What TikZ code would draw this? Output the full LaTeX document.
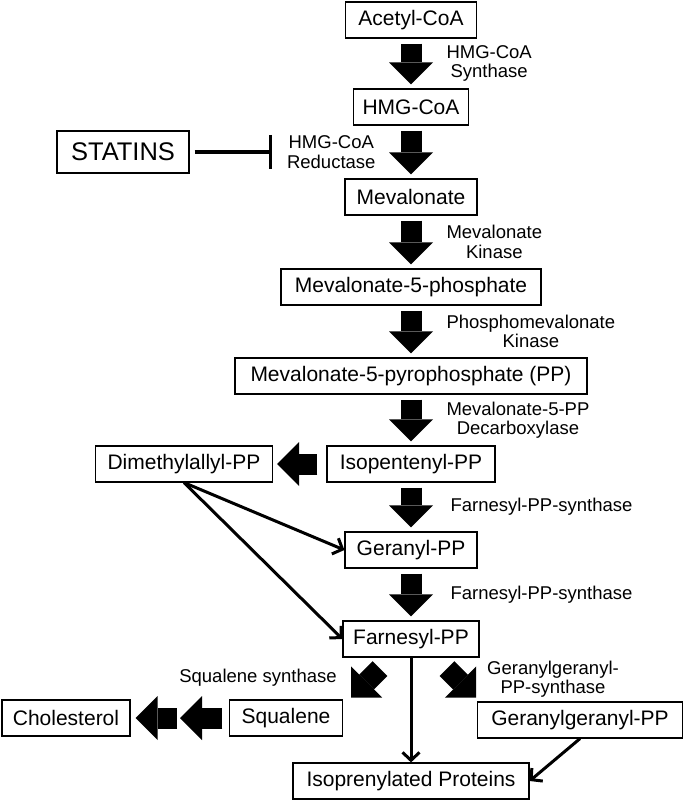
\documentclass[tikz,border=0pt]{standalone}
\usepackage{fontspec}
\setmainfont{Liberation Sans}
\usetikzlibrary{arrows.meta}

\tikzset{
  box/.style={draw, line width=1.2pt, minimum height=36pt, inner xsep=0pt,
    font=\fontsize{21}{24}\selectfont},
  enzyme/.style={align=center, inner sep=0pt, font=\fontsize{18.5}{19.5}\selectfont},
  fat/.style={line width=21pt, -{Triangle[width=44pt, length=22pt, line width=0pt]},
    shorten <=5pt, shorten >=4pt},
  link/.style={line width=3pt, -{Straight Barb[length=8pt, width=17pt]}},
  inhibit/.style={line width=3.2pt, -{Bar[width=34pt]}},
}

\begin{document}
\begin{tikzpicture}[x=1pt, y=-1pt]
\useasboundingbox (0,0) rectangle (685,802);
% main column, x = 411
\node[box, minimum width=131pt] (acetyl)   at (411, 20) {Acetyl-CoA};
\node[box, minimum width=115pt] (hmg)      at (411,107) {HMG-CoA};
\node[box, minimum width=132pt] (mev)      at (411,197) {Mevalonate};
\node[box, minimum width=260pt] (mevp)     at (411,287) {Mevalonate-5-phosphate};
\node[box, minimum width=352pt] (mevpp)    at (411,376) {Mevalonate-5-pyrophosphate (PP)};
\node[box, minimum width=168pt] (ipp)      at (411,464) {Isopentenyl-PP};
\node[box, minimum width=132pt] (gpp)      at (411,550) {Geranyl-PP};
\node[box, minimum width=136pt] (fpp)      at (411,639) {Farnesyl-PP};
\node[box, minimum width=236pt] (iprot)    at (411,781) {Isoprenylated Proteins};
% side boxes
\node[box, minimum width=132pt, minimum height=42pt,
      font=\fontsize{25.5}{28}\selectfont] (statins) at (123,152) {STATINS};
\node[box, minimum width=177pt] (dmapp)    at (184,464) {Dimethylallyl-PP};
\node[box, minimum width=113pt] (squalene) at (286,718) {Squalene};
\node[box, minimum width=128pt] (chol)     at ( 66,718) {Cholesterol};
\node[box, minimum width=205pt] (ggpp)     at (580,720) {Geranylgeranyl-PP};

% enzyme steps
\draw[fat] (acetyl) -- node[enzyme, right=25pt] {HMG-CoA\\Synthase} (hmg);
\draw[fat] (hmg)    -- node[enzyme, left=25pt] {HMG-CoA\\Reductase} (mev);
\draw[fat] (mev)    -- node[enzyme, right=25pt] {Mevalonate\\Kinase} (mevp);
\draw[fat] (mevp)   -- node[enzyme, right=25pt] {Phosphomevalonate\\Kinase} (mevpp);
\draw[fat] (mevpp)  -- node[enzyme, right=25pt] {Mevalonate-5-PP\\Decarboxylase} (ipp);
\draw[fat] (ipp)    -- node[enzyme, right=29pt] {Farnesyl-PP-synthase} (gpp);
\draw[fat] (gpp)    -- node[enzyme, right=29pt] {Farnesyl-PP-synthase} (fpp);
\draw[fat, shorten <=9pt] (ipp) -- (dmapp);

% statins block the reductase
\coordinate (stop) at (272,152);
\draw[inhibit, shorten <=5pt] (statins) -- (stop);

% dimethylallyl-PP feeds geranyl- and farnesyl-PP
\draw[link] (dmapp.south) -- (gpp.west);
\draw[link] (dmapp.south) -- (fpp.west);

% branches below farnesyl-PP
\coordinate (sqtail) at ([shift={(-31,11)}]fpp.south);
\coordinate (ggtail) at ([shift={(36,11)}]fpp.south);
\draw[fat, shorten <=0pt, shorten >=0pt] (sqtail) -- ++(-29,29);
\draw[fat, shorten <=0pt, shorten >=0pt] (ggtail) -- ++(29,29);
\node[enzyme] (sqsyn) at (258,678) {Squalene synthase};
\node[enzyme] (ggsyn) at (553,679) {Geranylgeranyl-\\PP-synthase};

\coordinate (sqmid) at (178.5,718);
\draw[fat, shorten <=6.5pt, shorten >=1.5pt] (squalene) -- (sqmid);
\draw[fat, shorten <=1.5pt, shorten >=5pt] (sqmid) -- (chol);

\draw[link] (fpp) -- (iprot);
\draw[link] (ggpp.south) -- (iprot.east);
\end{tikzpicture}
\end{document}
